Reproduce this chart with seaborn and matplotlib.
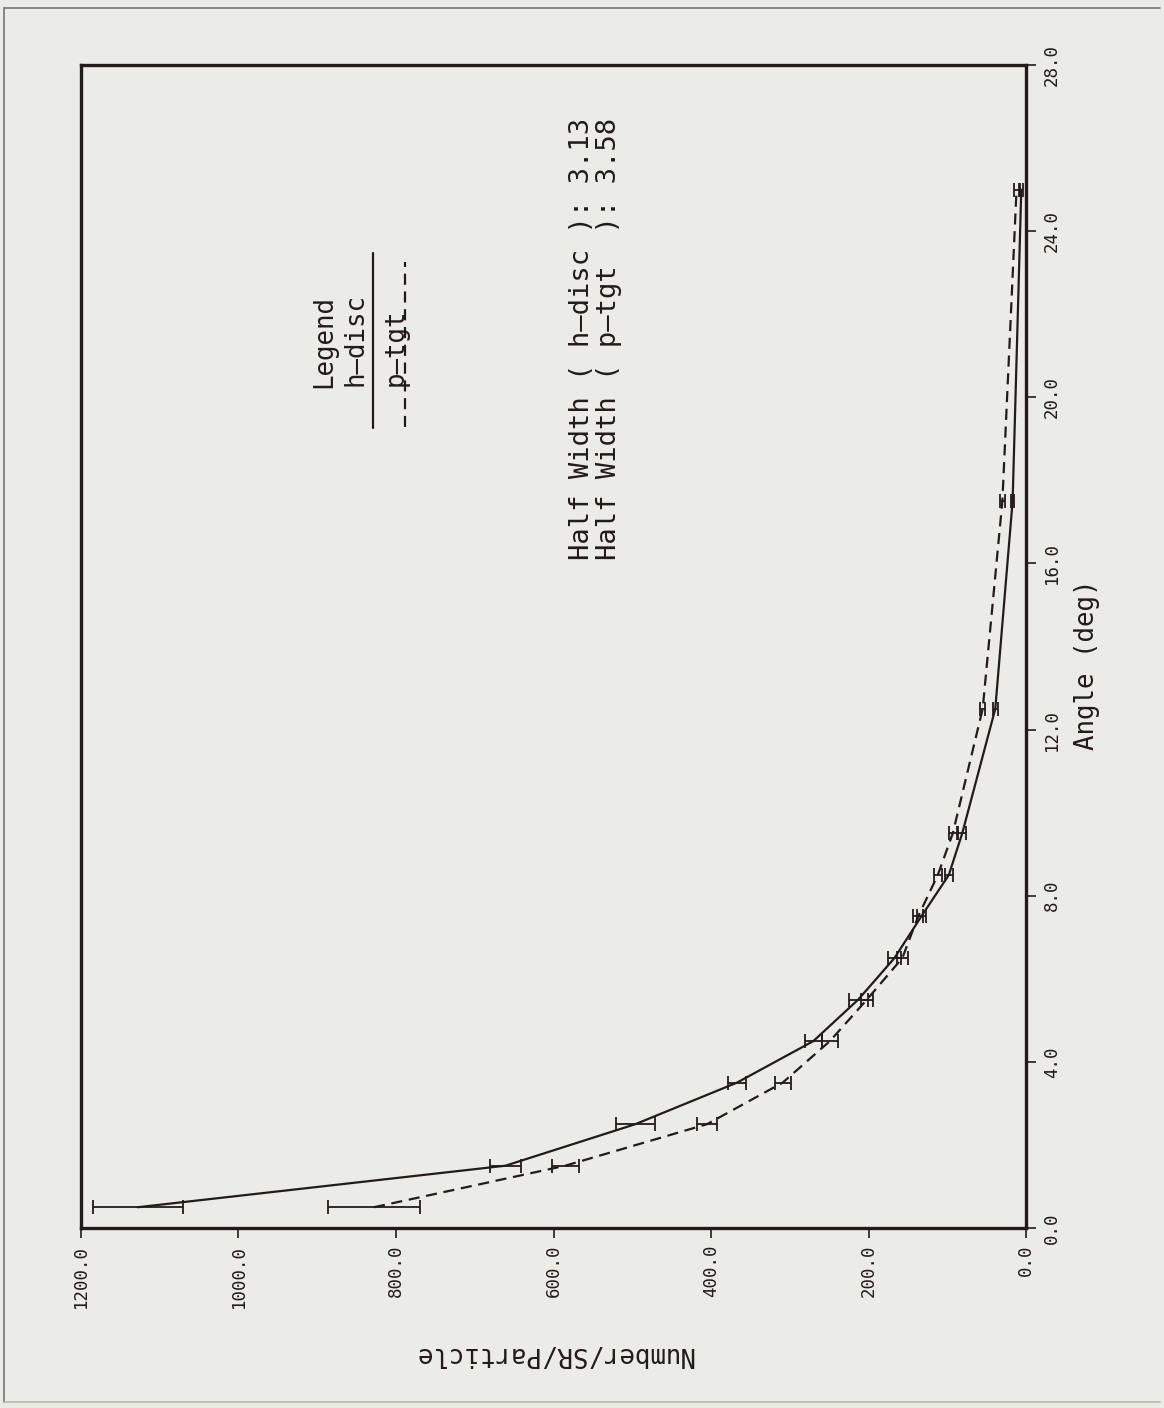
import matplotlib
matplotlib.use('Agg')
import matplotlib.pyplot as plt
import seaborn as sns
import pandas as pd
from matplotlib.lines import Line2D

angle = [0.5, 1.5, 2.5, 3.5, 4.5, 5.5, 6.5, 7.5, 8.5, 9.5, 12.5, 17.5, 25.0]
hdisc = [1128, 661, 496, 367, 270, 213, 167, 133, 98, 81, 39, 17, 6]
hdisc_err = [57, 20, 25, 11, 11, 12, 8, 6, 5, 5, 3, 2, 2]
ptgt = [828, 585, 405, 309, 249, 202, 157, 137, 112, 93, 55, 30, 12]
ptgt_err = [58, 17, 13, 10, 10, 8, 7, 6, 5, 5, 3, 3, 3]

series_names = ['h–disc', 'p–tgt']
half_widths = [3.13, 3.58]
x_ticks = [1200, 1000, 800, 600, 400, 200, 0]
y_ticks = [0, 4, 8, 12, 16, 20, 24, 28]

ink = '#231b1b'
paper = '#ebece5'

sns.set_style('white')
# the plotter lettering is fixed pitch, a mono face keeps the text lengths right
plt.rcParams['font.family'] = ['DejaVu Sans Mono', 'DejaVu Sans']

df = pd.DataFrame({
    'angle': angle + angle,
    'count': hdisc + ptgt,
    'series': [series_names[0]] * len(angle) + [series_names[1]] * len(angle),
})

fig = plt.figure(figsize=(11.64, 14.08), dpi=100, facecolor=paper)
ax = fig.add_axes([81 / 1164, 1 - 1228 / 1408, 945 / 1164, 1163 / 1408])
ax.set_facecolor(paper)

# the page is printed sideways: counts run right-to-left, angle runs upward
sns.lineplot(data=df, x='count', y='angle', style='series', sort=False,
             estimator=None, dashes={series_names[0]: '', series_names[1]: (5, 3)},
             color=ink, linewidth=1.6, legend=False, ax=ax)
ax.errorbar(hdisc, angle, xerr=hdisc_err, fmt='none', ecolor=ink,
            elinewidth=1.3, capsize=5, capthick=1.3)
ax.errorbar(ptgt, angle, xerr=ptgt_err, fmt='none', ecolor=ink,
            elinewidth=1.3, capsize=5, capthick=1.3)

ax.set_xlim(1200, 0)
ax.set_ylim(0, 28)
ax.set_xticks(x_ticks)
ax.set_xticklabels([f'{v:.1f}' for v in x_ticks])
ax.set_yticks(y_ticks)
ax.set_yticklabels([f'{v:.1f}' for v in y_ticks])
ax.yaxis.tick_right()
ax.yaxis.set_label_position('right')
ax.tick_params(axis='x', direction='out', length=7, width=1.2, color=ink,
               labelsize=12.5, labelcolor=ink, labelrotation=90, pad=5, bottom=True)
ax.tick_params(axis='y', direction='out', length=7, width=1.2, color=ink,
               labelsize=12.5, labelcolor=ink, labelrotation=90, pad=5, right=True, left=False)
for lab in ax.get_yticklabels():
    lab.set_va('center')
    lab.set_ha('left')

for side in ['top', 'bottom', 'left', 'right']:
    ax.spines[side].set_visible(True)
    ax.spines[side].set_color(ink)
    ax.spines[side].set_linewidth(2.4)

ax.set_xlabel('Number/SR/Particle', fontsize=18.5, color=ink, rotation=180,
              va='center', ha='center')
ax.xaxis.set_label_coords(0.5, -0.108)
ax.set_ylabel('Angle (deg)', fontsize=18.5, color=ink, rotation=90,
              va='center', ha='center')
ax.yaxis.set_label_coords(1.065, 0.484)

# legend block, written sideways like the rest of the page
ax.text(0.257, 0.762, 'Legend', transform=ax.transAxes, rotation=90,
        fontsize=18.5, color=ink, ha='center', va='center')
ax.text(0.291, 0.764, series_names[0], transform=ax.transAxes, rotation=90,
        fontsize=18.5, color=ink, ha='center', va='center')
ax.text(0.333, 0.757, series_names[1], transform=ax.transAxes, rotation=90,
        fontsize=18.5, color=ink, ha='center', va='center')
ax.plot([0.309, 0.309], [0.688, 0.838], transform=ax.transAxes, color=ink, lw=1.6)
ax.plot([0.343, 0.343], [0.689, 0.831], transform=ax.transAxes, color=ink, lw=1.6,
        dashes=(5, 3))

width = max(len(n) for n in series_names)
for i, (name, hw) in enumerate(zip(series_names, half_widths)):
    ax.text(0.530 + i * 0.029, 0.574, f'Half Width ( {name:<{width}} ): {hw:.2f}',
            transform=ax.transAxes, rotation=90, rotation_mode='anchor',
            fontsize=19.5, color=ink, ha='left', va='center')

# faint border of the scanned page
border = '#7a7474'
fig.add_artist(Line2D([4 / 1164, 1160 / 1164], [1 - 8 / 1408, 1 - 8 / 1408],
                      transform=fig.transFigure, color=border, lw=1.2))
fig.add_artist(Line2D([4 / 1164, 4 / 1164], [1 - 8 / 1408, 1 - 1402 / 1408],
                      transform=fig.transFigure, color=border, lw=1.2))
fig.add_artist(Line2D([4 / 1164, 1160 / 1164], [1 - 1402 / 1408, 1 - 1402 / 1408],
                      transform=fig.transFigure, color='#b8b6b0', lw=1.2))

fig.savefig('out.png', dpi=100, facecolor=paper)
